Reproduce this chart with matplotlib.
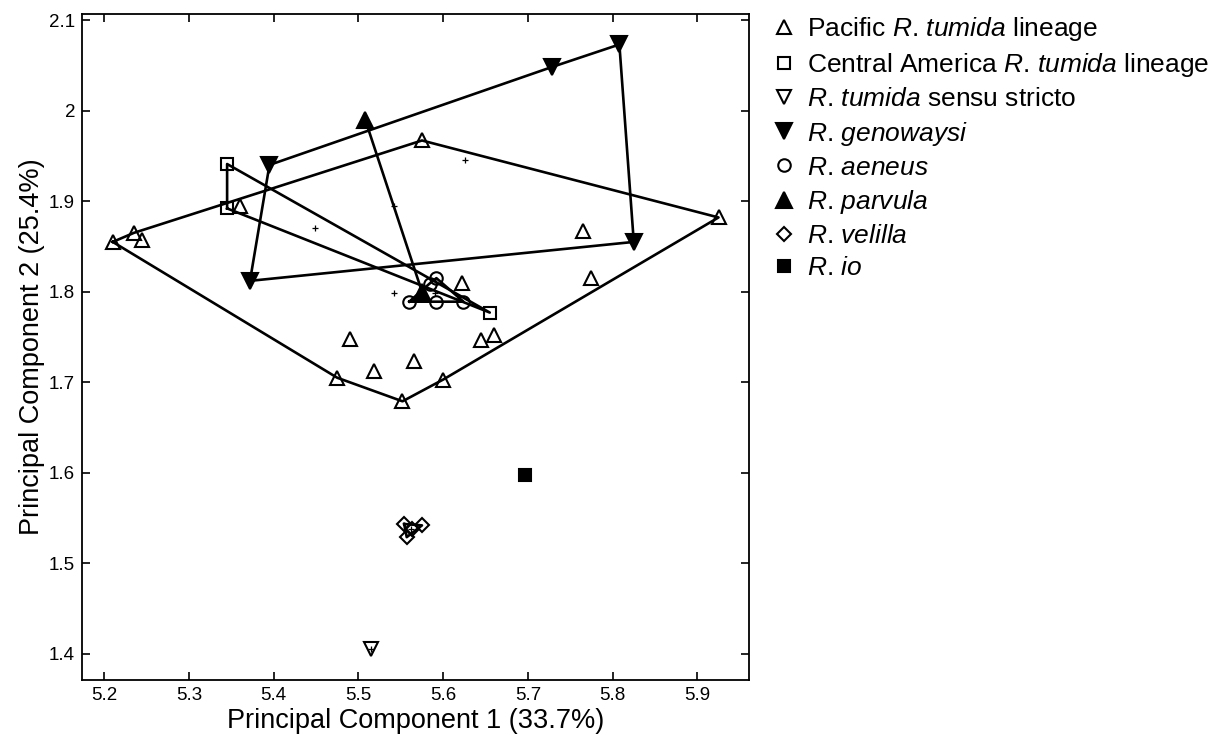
import numpy as np
import matplotlib
matplotlib.use('Agg')
import matplotlib.pyplot as plt

plt.rcParams['font.family'] = ['Liberation Sans', 'DejaVu Sans']
plt.rcParams['mathtext.fontset'] = 'custom'
plt.rcParams['mathtext.rm'] = 'Liberation Sans'
plt.rcParams['mathtext.it'] = 'Liberation Sans:italic'

# PC scores
pacific_x = [5.21, 5.235, 5.245, 5.36, 5.575, 5.925, 5.765, 5.775, 5.622, 5.66,
             5.645, 5.60, 5.552, 5.475, 5.49, 5.518, 5.565]
pacific_y = [1.855, 1.865, 1.857, 1.895, 1.967, 1.882, 1.867, 1.815, 1.810, 1.752,
             1.747, 1.703, 1.679, 1.705, 1.748, 1.712, 1.723]
central_x = [5.345, 5.345, 5.655]
central_y = [1.941, 1.892, 1.777]
stricto_x = [5.515]
stricto_y = [1.405]
genoway_x = [5.395, 5.728, 5.808, 5.825, 5.372]
genoway_y = [1.940, 2.048, 2.073, 1.855, 1.812]
aeneus_x = [5.560, 5.591, 5.624, 5.584, 5.592]
aeneus_y = [1.789, 1.789, 1.789, 1.809, 1.815]
parvula_x = [5.508, 5.575]
parvula_y = [1.990, 1.800]
velilla_x = [5.554, 5.557, 5.563, 5.575]
velilla_y = [1.5435, 1.529, 1.538, 1.542]
io_x = [5.697]
io_y = [1.598]

groups = [
    (r'Pacific $\mathit{R}$. $\mathit{tumida}$ lineage', pacific_x, pacific_y, '^', 'none', 10),
    (r'Central America $\mathit{R}$. $\mathit{tumida}$ lineage', central_x, central_y, 's', 'none', 8),
    (r'$\mathit{R}$. $\mathit{tumida}$ sensu stricto', stricto_x, stricto_y, 'v', 'none', 10),
    (r'$\mathit{R}$. $\mathit{genowaysi}$', genoway_x, genoway_y, 'v', 'black', 11),
    (r'$\mathit{R}$. $\mathit{aeneus}$', aeneus_x, aeneus_y, 'o', 'none', 9),
    (r'$\mathit{R}$. $\mathit{parvula}$', parvula_x, parvula_y, '^', 'black', 11),
    (r'$\mathit{R}$. $\mathit{velilla}$', velilla_x, velilla_y, 'D', 'none', 7),
    (r'$\mathit{R}$. $\mathit{io}$', io_x, io_y, 's', 'black', 8),
]


def hull(xs, ys):
    pts = sorted(set(zip(xs, ys)))
    if len(pts) < 3:
        return pts

    def cross(o, a, b):
        return (a[0] - o[0]) * (b[1] - o[1]) - (a[1] - o[1]) * (b[0] - o[0])

    lower, upper = [], []
    for p in pts:
        while len(lower) >= 2 and cross(lower[-2], lower[-1], p) <= 0:
            lower.pop()
        lower.append(p)
    for p in reversed(pts):
        while len(upper) >= 2 and cross(upper[-2], upper[-1], p) <= 0:
            upper.pop()
        upper.append(p)
    h = lower[:-1] + upper[:-1]
    return h + [h[0]]


fig = plt.figure(figsize=(12.11, 7.42), dpi=100)
ax = fig.add_axes([0.0677, 0.0836, 0.5508, 0.8982])

for label, xs, ys, mk, fc, ms in groups:
    h = hull(xs, ys)
    if len(h) > 1:
        hx, hy = zip(*h)
        ax.plot(hx, hy, color='black', lw=1.9, zorder=2)
    ax.plot(xs, ys, ls='none', marker=mk, ms=ms, mfc=fc, mec='black', mew=1.5,
            label=label, zorder=3)
    # group centroid
    ax.plot(np.mean(xs), np.mean(ys), ls='none', marker='+', ms=5, mew=0.9,
            color='black', zorder=4)

ax.set_xlim(5.1737, 5.961)
ax.set_ylim(1.3713, 2.1072)
ax.set_xticks([5.2, 5.3, 5.4, 5.5, 5.6, 5.7, 5.8, 5.9])
ax.set_xticklabels(['5.2', '5.3', '5.4', '5.5', '5.6', '5.7', '5.8', '5.9'])
ax.set_yticks([1.4, 1.5, 1.6, 1.7, 1.8, 1.9, 2.0, 2.1])
ax.set_yticklabels(['1.4', '1.5', '1.6', '1.7', '1.8', '1.9', '2', '2.1'])
ax.tick_params(direction='in', top=True, right=True, length=6, width=1.2,
               labelsize=13.5, pad=5)
for s in ax.spines.values():
    s.set_linewidth(1.3)

ax.set_xlabel('Principal Component 1 (33.7%)', fontsize=19.5, labelpad=3)
ax.set_ylabel('Principal Component 2 (25.4%)', fontsize=19.5, labelpad=3)

fig.legend(loc='upper left', bbox_to_anchor=(0.627, 0.994), frameon=False,
           fontsize=19, labelspacing=0.31, handletextpad=0.3, handlelength=1.1,
           borderaxespad=0)

plt.savefig('out.png', dpi=100)
